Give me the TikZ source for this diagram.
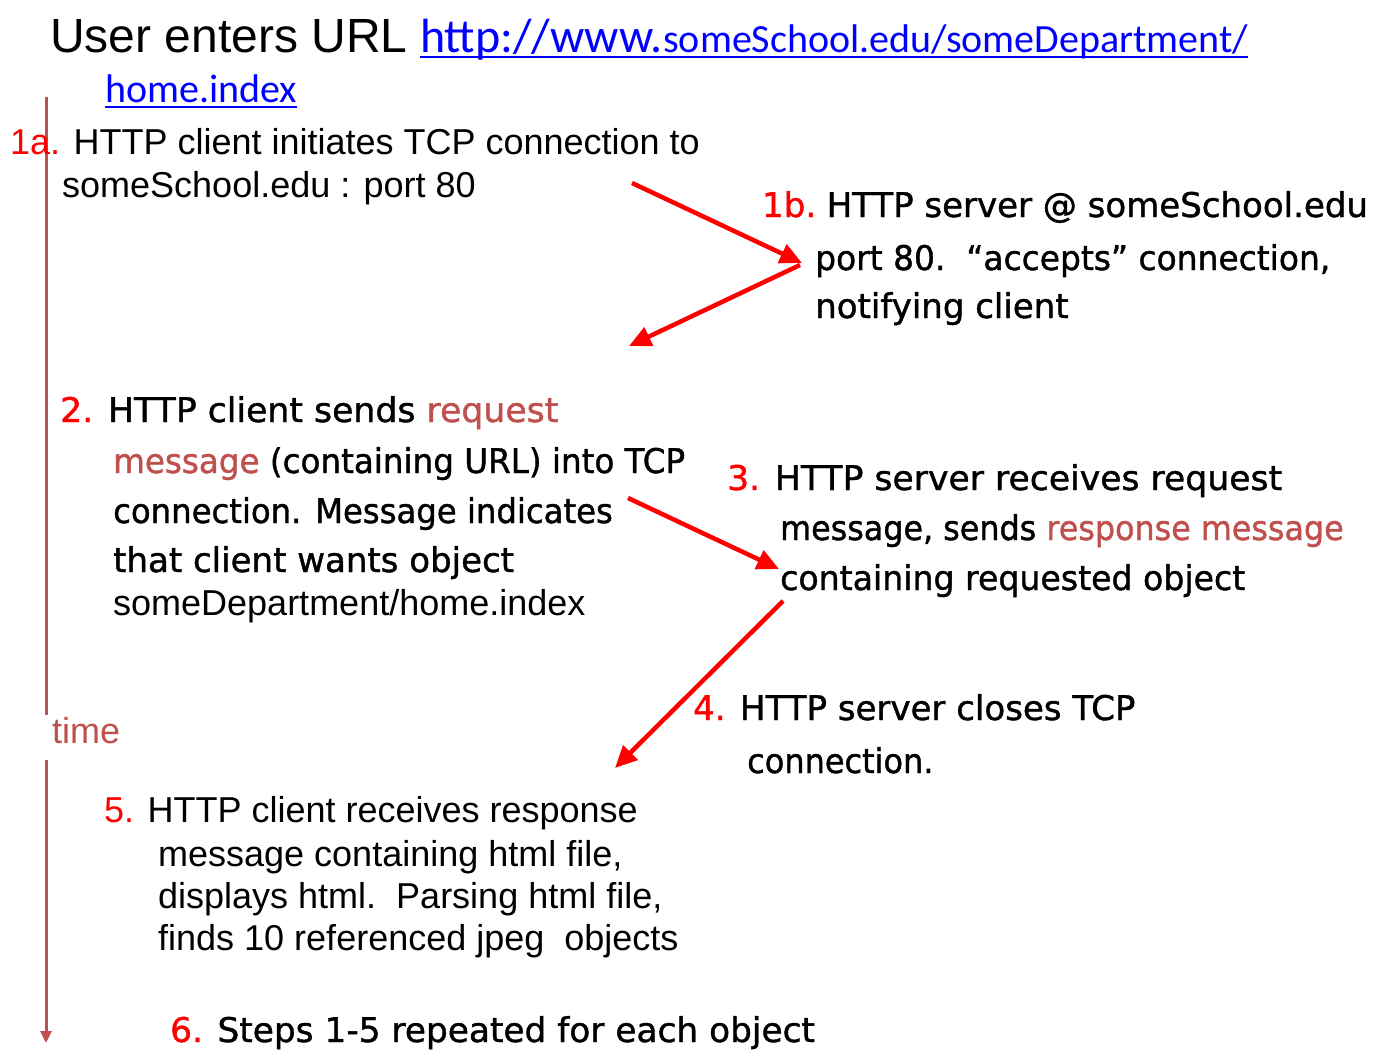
\documentclass[tikz,border=0pt]{standalone}
\usepackage{fontspec}
\setmainfont{Liberation Sans}
\newfontfamily\arialf{Liberation Sans}
\newfontfamily\comicf[FakeBold=1.2]{DejaVu Sans}
\newfontfamily\calf{Carlito}
\usetikzlibrary{arrows.meta}
\definecolor{numred}{HTML}{FF0000}
\definecolor{brick}{HTML}{C0504D}
\definecolor{linkblue}{HTML}{0000FF}
\tikzset{
  txt/.style={inner sep=0pt, anchor=base west, font=\arialf\fontsize{36}{41}\selectfont},
  ctxt/.style={inner sep=0pt, anchor=base west, font=\comicf\fontsize{34}{50}\selectfont},
  linktxt/.style={inner sep=0pt, anchor=base west, text=linkblue},
  uline/.style={draw=linkblue, line width=2pt},
  redarrow/.style={draw=numred, line width=4.5pt, -{Triangle[length=22pt,width=20pt]}},
  timeline/.style={draw=brick, line width=3pt},
}
\newcommand{\num}[1]{\textcolor{numred}{#1}}
\newcommand{\hl}[1]{\textcolor{brick}{#1}}
\newcommand{\sx}[2]{\scalebox{#1}[1]{#2}}
\begin{document}
\begin{tikzpicture}[x=1pt,y=-1pt]
\useasboundingbox[fill=white] (0,0) rectangle (1390,1062);

% title and URL
\node[txt, font=\arialf\fontsize{48}{56}\selectfont] (title) at (50,53) {User enters URL};
\node[linktxt, font=\calf\fontsize{48}{56}\selectfont] (url1) at (420,53) {http://www.};
\node[linktxt, font=\calf\fontsize{40}{48}\selectfont, anchor=base west] (url2) at (url1.base east) {someSchool.edu/someDepartment/};
\node[linktxt, font=\calf\fontsize{40}{48}\selectfont] (url3) at (105,103) {home.index};
\draw[uline] ([yshift=-4pt]url1.base west) -- ([yshift=-4pt]url2.base east);
\draw[uline] ([yshift=-4pt]url3.base west) -- ([yshift=-4pt]url3.base east);

% time line
\coordinate (t0) at (46,97);
\coordinate (t1) at (46,715);
\coordinate (t2) at (46,760);
\coordinate (t3) at (46,1043);
\draw[timeline] (t0) -- (t1);
\draw[timeline, -{Triangle[length=12pt,width=11pt]}] (t2) -- (t3);
\node[txt, text=brick] (time) at (52,743) {time};

% 1a
\node[txt] (s1a) at (10,155) {\num{1a.} HTTP client initiates TCP connection to};
\node[txt] (s1a2) at (62,197) {someSchool.edu : port 80};

% 1b
\node[ctxt] (s1b) at (762,217) {\num{1b.}\hspace{-4pt} HTTP server @ someSchool.edu};
\node[ctxt] (s1b2) at (815,270) {\sx{0.968}{port 80.\ \ “accepts” connection,}};
\node[ctxt] (s1b3) at (815,318) {notifying client};

% 2
\node[ctxt] (s2) at (60,422) {\sx{1.02}{\num{2.} HTTP client sends \hl{request}}};
\node[ctxt] (s22) at (113,473) {\sx{0.958}{\hl{message} (containing URL) into TCP}};
\node[ctxt] (s23) at (113,523) {\sx{0.95}{connection. Message indicates}};
\node[ctxt] (s24) at (113,572) {that client wants object};
\node[txt] (s25) at (113,615) {someDepartment/home.index};

% 3
\node[ctxt] (s3) at (727,490) {\sx{1.018}{\num{3.} HTTP server receives request}};
\node[ctxt] (s32) at (780,540) {\sx{0.935}{message, sends \hl{response message}}};
\node[ctxt] (s33) at (780,590) {\sx{0.975}{containing requested object}};

% 4
\node[ctxt] (s4) at (693,720) {\num{4.} HTTP server closes TCP};
\node[ctxt] (s42) at (747,773) {\sx{0.94}{connection.}};

% 5
\node[txt] (s5) at (104,822) {\num{5.} HTTP client receives response};
\node[txt] (s52) at (158,866) {message containing html file,};
\node[txt] (s53) at (158,908) {displays html.\ \ Parsing html file,};
\node[txt] (s54) at (158,950) {finds 10 referenced jpeg\ \ objects};

% 6
\node[ctxt] (s6) at (170,1042) {\sx{1.01}{\num{6.} Steps 1-5 repeated for each object}};

% arrows
\coordinate (a1s) at (632,183);
\coordinate (a1e) at (802,263);
\coordinate (a2s) at (800,265);
\coordinate (a2e) at (629,346);
\coordinate (a3s) at (628,498);
\coordinate (a3e) at (779,569);
\coordinate (a4s) at (783,601);
\coordinate (a4e) at (615,768);
\draw[redarrow] (a1s) -- (a1e);
\draw[redarrow] (a2s) -- (a2e);
\draw[redarrow] (a3s) -- (a3e);
\draw[redarrow] (a4s) -- (a4e);
\end{tikzpicture}
\end{document}
